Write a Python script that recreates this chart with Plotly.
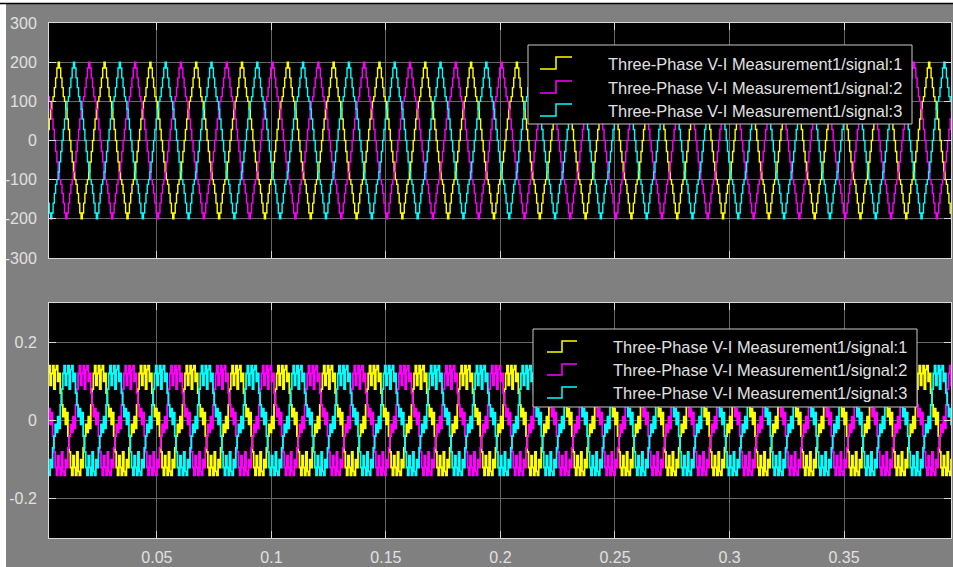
import numpy as np
import plotly.graph_objects as go

# ---------------- data ----------------
SIGNAL_NAMES = ["Three-Phase V-I Measurement1/signal:1",
                "Three-Phase V-I Measurement1/signal:2",
                "Three-Phase V-I Measurement1/signal:3"]
SIGNAL_COLORS = ["#ffff00", "#ff00ff", "#00ffff"]

PERIOD = 0.02            # 50 Hz
SAMPLES_PER_PERIOD = 36
T_END = 0.4

# one cycle of the (staircase) voltage, starting at the positive peak
VOLT_CYCLE = [200, 185, 160, 135, 112, 100, 80, 55, 28, 0, -28, -55, -80, -100,
              -112, -135, -160, -185, -200, -185, -160, -135, -112, -100, -80,
              -55, -28, 0, 28, 55, 80, 100, 112, 135, 160, 185]
VOLT_PEAK_TIME = 0.0069          # first positive peak of signal 1
# one cycle of the current, starting at the start of its positive block
CURR_CYCLE = [0.08, 0.12, 0.14, 0.09, 0.12, 0.14, 0.08, 0.13, 0.14, 0.10, 0.12, 0.07,
              0.04, 0.01, 0.03, -0.01, 0.02, -0.04,
              -0.08, -0.12, -0.14, -0.09, -0.12, -0.14, -0.08, -0.13, -0.14, -0.10, -0.12, -0.07,
              -0.04, -0.01, -0.03, 0.01, -0.02, 0.04]
CURR_START_TIME = 0.0017
# delay of each signal in samples (signal 2 lags 240 deg, signal 3 lags 120 deg)
PHASE_DELAY = [0, 24, 12]

X_TICKS = [0.05, 0.1, 0.15, 0.2, 0.25, 0.3, 0.35]
X_TICK_LABELS = ["0.05", "0.1", "0.15", "0.2", "0.25", "0.3", "0.35"]
V_TICKS = [-300, -200, -100, 0, 100, 200, 300]
V_TICK_LABELS = ["-300", "-200", "-100", "0", "100", "200", "300"]
I_TICKS = [-0.2, 0, 0.2]
I_TICK_LABELS = ["-0.2", "0", "0.2"]
X_RANGE = [0.0029, 0.3967]
V_RANGE = [-300, 300]
I_RANGE = [-0.3, 0.3]

# ---------------- build series by repeating the measured cycle ----------------
Ts = PERIOD / SAMPLES_PER_PERIOD


def series(cycle, t0, delay):
    k = np.arange(-SAMPLES_PER_PERIOD, int((T_END - t0) / Ts) + 2)
    t = t0 + k * Ts
    vals = np.array(cycle)[np.mod(k - delay, SAMPLES_PER_PERIOD)]
    return t, vals


# ---------------- figure ----------------
W, H = 953, 567
ML, MR, MT, MB = 49, 2, 23, 29
PW, PH = W - ML - MR, H - MT - MB


def fx(px):
    return (px - ML) / PW


def fy(py):
    return (H - MB - py) / PH


fig = go.Figure()
for name, col, d in zip(SIGNAL_NAMES, SIGNAL_COLORS, PHASE_DELAY):
    t, v = series(VOLT_CYCLE, VOLT_PEAK_TIME, d)
    fig.add_trace(go.Scatter(x=t, y=v, mode="lines", name=name, line=dict(color=col, width=1.4, shape="hv"),
                             xaxis="x", yaxis="y", showlegend=False))
for name, col, d in zip(SIGNAL_NAMES, SIGNAL_COLORS, PHASE_DELAY):
    t, v = series(CURR_CYCLE, CURR_START_TIME, d)
    fig.add_trace(go.Scatter(x=t, y=v, mode="lines", name=name, line=dict(color=col, width=1.8, shape="hv"),
                             xaxis="x2", yaxis="y2", showlegend=False))

FONT = "Liberation Sans, Arial, sans-serif"
TXT = "#e0e0e0"
axis_common = dict(showline=True, linecolor="#d8d8d8", linewidth=1, mirror="allticks",
                   ticks="inside", ticklen=7, tickcolor="#d8d8d8", tickwidth=1,
                   showgrid=True, gridcolor="#666666", gridwidth=1, zeroline=False,
                   automargin=False,
                   tickfont=dict(family=FONT, size=16, color=TXT))

top_dom = [fy(258), 1.0]
bot_dom = [0.0, fy(303)]

fig.update_layout(
    width=W, height=H, margin=dict(l=ML, r=MR, t=MT, b=MB, pad=0, autoexpand=False),
    paper_bgcolor="#808080", plot_bgcolor="#000000",
    showlegend=False,
    xaxis=dict(domain=[0, 1], anchor="y", range=X_RANGE, tickvals=X_TICKS, ticktext=X_TICK_LABELS,
               showticklabels=False, **axis_common),
    yaxis=dict(domain=top_dom, anchor="x", range=V_RANGE, tickvals=V_TICKS, ticktext=V_TICK_LABELS,
               ticklabelstandoff=8, **axis_common),
    xaxis2=dict(domain=[0, 1], anchor="y2", range=X_RANGE, tickvals=X_TICKS, ticktext=X_TICK_LABELS,
                ticklabelstandoff=5, **axis_common),
    yaxis2=dict(domain=bot_dom, anchor="x2", range=I_RANGE, tickvals=I_TICKS, ticktext=I_TICK_LABELS,
                ticklabelstandoff=8, **axis_common),
)

shapes = []
annotations = []

# screenshot border: white strip at left / top and a black line at top
shapes.append(dict(type="rect", xref="paper", yref="paper", x0=fx(-2), x1=fx(6), y0=fy(H + 2), y1=fy(-2),
                   fillcolor="#ffffff", line=dict(width=0), layer="above"))
shapes.append(dict(type="rect", xref="paper", yref="paper", x0=fx(-2), x1=fx(W + 2), y0=fy(3), y1=fy(-2),
                   fillcolor="#ffffff", line=dict(width=0), layer="above"))
shapes.append(dict(type="line", xref="paper", yref="paper", x0=fx(0), x1=fx(W + 2), y0=fy(3.5), y1=fy(3.5),
                   line=dict(color="#000000", width=1.5), layer="above"))


def add_legend(box, rows, icon_x, text_x, up, down):
    x0, y0, x1, y1 = box
    shapes.append(dict(type="rect", xref="paper", yref="paper", x0=fx(x0), x1=fx(x1), y0=fy(y1), y1=fy(y0),
                       fillcolor="#000000", line=dict(color="#c8c8c8", width=1), layer="above"))
    ia, ib, ic = icon_x
    for ry, name, col in zip(rows, SIGNAL_NAMES, SIGNAL_COLORS):
        path = "M {a},{lo} L {b},{lo} L {b},{hi} L {c},{hi}".format(
            a=fx(ia), b=fx(ib), c=fx(ic), lo=fy(ry + down), hi=fy(ry - up))
        shapes.append(dict(type="path", xref="paper", yref="paper", path=path,
                           line=dict(color=col, width=1.5), layer="above"))
        annotations.append(dict(xref="paper", yref="paper", x=fx(text_x), y=fy(ry), xanchor="left",
                                yanchor="middle", text=name, showarrow=False,
                                font=dict(family=FONT, size=16.4, color=TXT)))


add_legend((528, 45, 912, 124), [64, 88, 111], (540, 556, 572), 606, 7, 5)
add_legend((533, 329, 917, 407), [347, 370, 393], (547, 562, 577), 611, 6, 5)

fig.update_layout(shapes=shapes, annotations=annotations)
fig.write_html("out.html")
